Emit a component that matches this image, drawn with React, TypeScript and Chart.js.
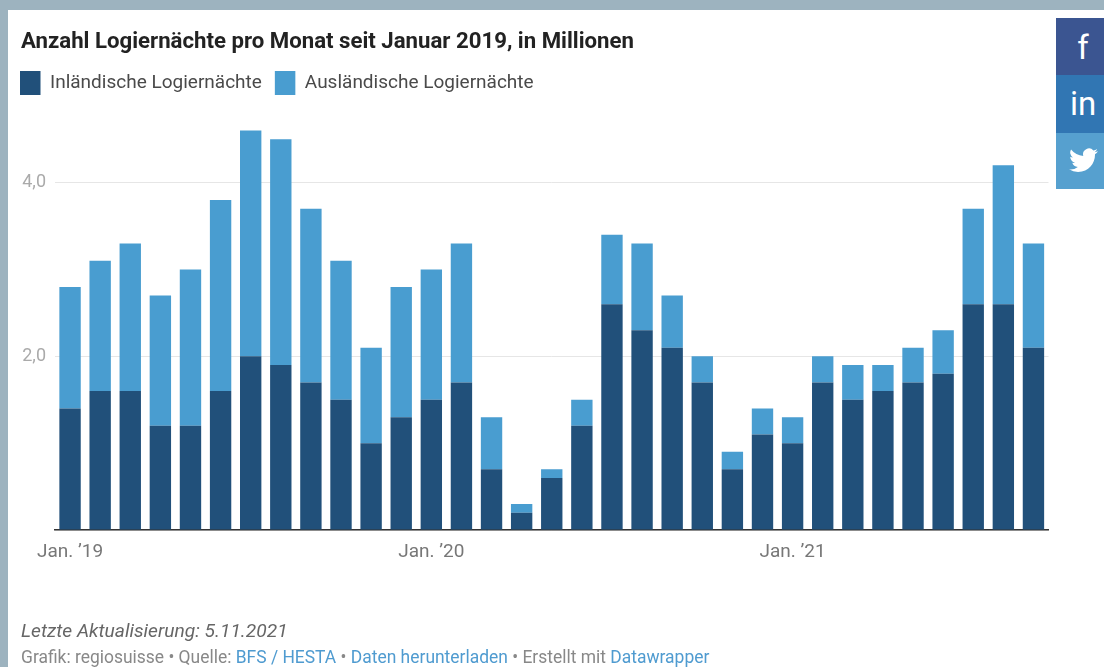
import React, { useEffect, useRef } from "react";
import { Chart, registerables } from "chart.js";

Chart.register(...registerables);

const months = [
  "Jan. ’19","Feb. ’19","Mär. ’19","Apr. ’19","Mai ’19","Jun. ’19","Jul. ’19","Aug. ’19","Sep. ’19","Okt. ’19","Nov. ’19","Dez. ’19",
  "Jan. ’20","Feb. ’20","Mär. ’20","Apr. ’20","Mai ’20","Jun. ’20","Jul. ’20","Aug. ’20","Sep. ’20","Okt. ’20","Nov. ’20","Dez. ’20",
  "Jan. ’21","Feb. ’21","Mär. ’21","Apr. ’21","Mai ’21","Jun. ’21","Jul. ’21","Aug. ’21","Sep. ’21",
];
const inland = [1.4,1.6,1.6,1.2,1.2,1.6,2.0,1.9,1.7,1.5,1.0,1.3,1.5,1.7,0.7,0.2,0.6,1.2,2.6,2.3,2.1,1.7,0.7,1.1,1.0,1.7,1.5,1.6,1.7,1.8,2.6,2.6,2.1];
const foreign = [1.4,1.5,1.7,1.5,1.8,2.2,2.6,2.6,2.0,1.6,1.1,1.5,1.5,1.6,0.6,0.1,0.1,0.3,0.8,1.0,0.6,0.3,0.2,0.3,0.3,0.3,0.4,0.3,0.4,0.5,1.1,1.6,1.2];
const seriesNames = ["Inländische Logiernächte", "Ausländische Logiernächte"];
const titleText = "Anzahl Logiernächte pro Monat seit Januar 2019, in Millionen";

const FONT = "Roboto, sans-serif";
const abs = (left: number, top: number, width: number, height: number, background: string): React.CSSProperties => ({
  position: "absolute", left, top, width, height, background,
});

export default function App() {
  const ref = useRef<HTMLCanvasElement>(null);
  useEffect(() => {
    document.body.style.margin = "0";
    document.body.style.overflow = "hidden";
    const chart = new Chart(ref.current!, {
      type: "bar",
      data: {
        labels: months,
        datasets: [
          { label: seriesNames[0], data: inland, backgroundColor: "#21507a", stack: "a", barPercentage: 0.71, categoryPercentage: 1 },
          { label: seriesNames[1], data: foreign, backgroundColor: "#499dd0", stack: "a", barPercentage: 0.71, categoryPercentage: 1 },
        ],
      },
      options: {
        animation: false,
        responsive: false,
        layout: { padding: { left: 7, right: 55.5, top: 58, bottom: 100 } },
        plugins: {
          tooltip: { enabled: false },
          title: { display: false },
          legend: {
            display: true,
            position: "top",
            align: "start",
            onClick: () => {},
            labels: {
              boxWidth: 20.5, boxHeight: 24, padding: 13,
              color: "#4a4a4a",
              font: { family: FONT, size: 19 },
            },
          },
        },
        scales: {
          x: {
            stacked: true,
            afterFit: (s: any) => { s.height = 37; },
            grid: { display: false },
            border: { color: "#333333", width: 1.5 },
            ticks: {
              autoSkip: false, maxRotation: 0, padding: 3, color: "#777777",
              font: { family: FONT, size: 19 },
              callback: function (this: any, v: any, i: number) {
                const l = months[i];
                return l.startsWith("Jan") ? l : "";
              },
            },
          },
          y: {
            stacked: true,
            min: 0,
            max: 4.895,
            afterFit: (s: any) => { s.width = 48; },
            border: { display: false },
            grid: { color: "#e6e6e6", drawTicks: false },
            ticks: {
              stepSize: 2, includeBounds: false, padding: 9, color: "#aaaaaa",
              font: { family: FONT, size: 18 },
              callback: (v: any) => (v === 0 ? "" : Number(v).toFixed(1).replace(".", ",")),
            },
          },
        },
      },
    } as any);
    return () => chart.destroy();
  }, []);

  return (
    <div style={{ position: "absolute", left: 0, top: 0, width: 1104, height: 667, background: "#fff", overflow: "hidden", fontFamily: FONT }}>
      <div style={abs(0, 0, 1104, 10, "#9db3bf")} />
      <div style={abs(0, 0, 8, 667, "#9db3bf")} />
      <canvas ref={ref} width={1104} height={667} style={{ position: "absolute", left: 0, top: 0, display: "block" }} />
      <div style={{ position: "absolute", left: 21, top: 27, fontSize: 22.2, fontWeight: 700, color: "#222", whiteSpace: "nowrap" }}>{titleText}</div>
      <div style={{ position: "absolute", left: 21, top: 619, fontSize: 19.2, fontStyle: "italic", color: "#666", whiteSpace: "nowrap" }}>Letzte Aktualisierung: 5.11.2021</div>
      <div style={{ position: "absolute", left: 21, top: 647, fontSize: 17.45, color: "#888", whiteSpace: "nowrap" }}>
        Grafik: regiosuisse • Quelle: <span style={{ color: "#4f9bd0" }}>BFS / HESTA</span> • <span style={{ color: "#4f9bd0" }}>Daten herunterladen</span> • Erstellt mit <span style={{ color: "#4f9bd0" }}>Datawrapper</span>
      </div>
      <div style={{ ...abs(1056, 18, 48, 57, "#3b5591"), color: "#fff", fontSize: 33, textAlign: "center", lineHeight: "60px", paddingLeft: 6, width: 42 }}>f</div>
      <div style={{ ...abs(1056, 75, 48, 58, "#3176b3"), color: "#fff", fontSize: 33, textAlign: "center", lineHeight: "58px", paddingLeft: 6, width: 42 }}>in</div>
      <div style={abs(1056, 133, 48, 56, "#56a0cf")}>
        <svg width="29" height="25" viewBox="0 0 24 20" style={{ position: "absolute", left: 13, top: 15 }}>
          <path fill="#fff" d="M24 2.4a9.8 9.8 0 0 1-2.8.8A5 5 0 0 0 23.3.5a9.900 9.900 0 0 1-3.100 1.200A4.900 4.900 0 0 0 11.800 6.200 14 14 0 0 1 1.700.9a4.900 4.900 0 0 0 1.500 6.600 4.900 4.900 0 0 1-2.200-.6c0 2.400 1.700 4.400 3.900 4.900a4.900 4.900 0 0 1-2.200.1 4.900 4.900 0 0 0 4.600 3.400A9.900 9.900 0 0 1 0 17.300 14 14 0 0 0 7.500 19.500c9.100 0 14.300-7.700 14-14.600A10 10 0 0 0 24 2.400z" />
        </svg>
      </div>
    </div>
  );
}
